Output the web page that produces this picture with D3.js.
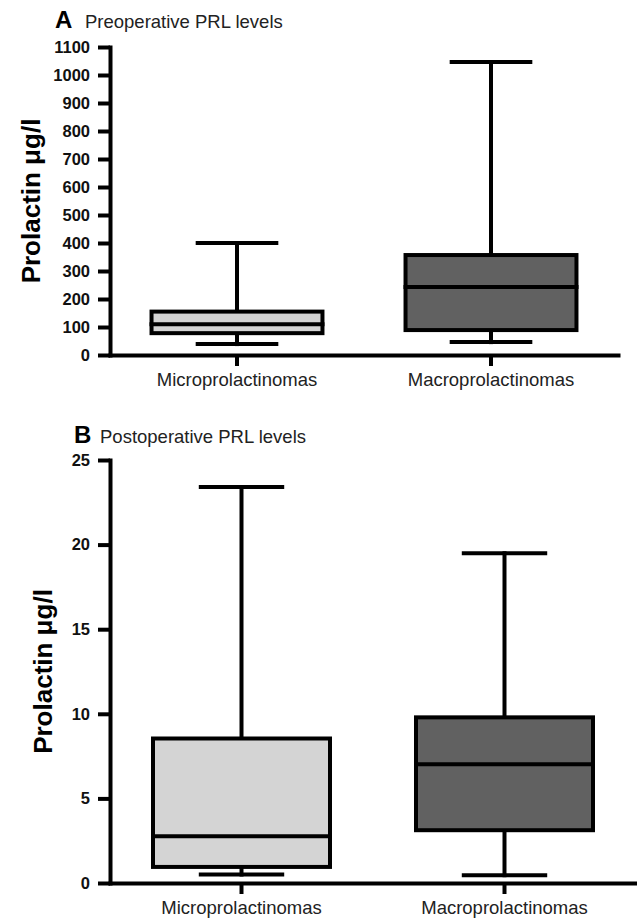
<!DOCTYPE html>
<html>
<head>
<meta charset="utf-8">
<script src="https://cdn.jsdelivr.net/npm/d3@7"></script>
<style>
  body { margin: 0; background: #fff; }
  svg { display: block; font-family: "Liberation Sans", Arial, sans-serif; }
</style>
</head>
<body>
<svg id="chart" width="637" height="920"></svg>
<script>
// 分类
const categories = ['Microprolactinomas', 'Macroprolactinomas'];
// 箱线图统计值: [min, q1, median, q3, max]
const preopStats = [
    [39, 78, 110, 155, 400],
    [46, 89, 243, 357, 1046]
];
const postopStats = [
    [0.5, 0.95, 2.76, 8.54, 23.4],
    [0.46, 3.12, 7.02, 9.79, 19.49]
];
// 刻度
const preopTicks = d3.range(0, 1101, 100);
const postopTicks = [0, 5, 10, 15, 20, 25];
// 填充色
const fills = ['#d4d4d4', '#616161'];

const svg = d3.select('#chart');

// 绘制单个面板
function drawPanel(opt) {
    let g = svg.append('g');
    let x = d3.scaleBand().domain(categories).range([opt.x0, opt.x1]).padding(0);
    let y = d3.scaleLinear().domain([0, opt.max]).range([opt.y0, opt.y1]);

    // 标题
    g.append('text').attr('x', opt.titleX).attr('y', opt.titleY)
        .attr('font-size', 24).attr('font-weight', 'bold').text(opt.letter);
    g.append('text').attr('x', opt.titleX + opt.titleGap).attr('y', opt.titleY)
        .attr('font-size', 18.5).attr('fill', '#222').text(opt.title);

    // 箱线
    let bw = x.bandwidth() * 0.673;
    let cw = bw * 0.46;
    let boxes = g.selectAll('.box').data(opt.stats).enter().append('g');
    boxes.each(function(d, i) {
        let sel = d3.select(this);
        let cx = x(categories[i]) + x.bandwidth() / 2;
        // 须线
        sel.append('line').attr('x1', cx).attr('x2', cx).attr('y1', y(d[0])).attr('y2', y(d[1]));
        sel.append('line').attr('x1', cx).attr('x2', cx).attr('y1', y(d[3])).attr('y2', y(d[4]));
        // 端帽
        [d[0], d[4]].forEach(v => {
            sel.append('line').attr('x1', cx - cw / 2).attr('x2', cx + cw / 2)
                .attr('y1', y(v)).attr('y2', y(v));
        });
        // 箱体
        sel.append('rect').attr('x', cx - bw / 2).attr('width', bw)
            .attr('y', y(d[3])).attr('height', y(d[1]) - y(d[3]))
            .attr('fill', fills[i]);
        // 中位数
        sel.append('line').attr('x1', cx - bw / 2).attr('x2', cx + bw / 2)
            .attr('y1', y(d[2])).attr('y2', y(d[2]));
    });
    boxes.selectAll('line, rect').attr('stroke', '#000').attr('stroke-width', 4)
        .attr('stroke-linecap', 'square');
    boxes.selectAll('rect').attr('stroke-linejoin', 'miter');

    // y 轴
    let ya = g.append('g').attr('transform', `translate(${opt.x0},0)`)
        .call(d3.axisLeft(y).tickValues(opt.ticks).tickFormat(d3.format('d'))
            .tickSize(12).tickSizeOuter(0).tickPadding(8));
    ya.selectAll('text').attr('font-size', 16.5).attr('font-weight', 'bold').attr('fill', '#111')
        .attr('font-family', '"Liberation Sans", Arial, sans-serif');

    // x 轴
    let xa = g.append('g').attr('transform', `translate(0,${opt.y0})`)
        .call(d3.axisBottom(x).tickSize(11).tickSizeOuter(0).tickPadding(7));
    xa.selectAll('text').attr('font-size', 18.5).attr('fill', '#222')
        .attr('font-family', '"Liberation Sans", Arial, sans-serif');

    [ya, xa].forEach(a => {
        a.selectAll('path, line').attr('stroke', '#000').attr('stroke-width', 4);
        a.select('.domain').attr('stroke-linecap', 'square');
    });

    // y 轴标题
    g.append('text')
        .attr('transform', `translate(${opt.labelX},${(opt.y0 + opt.y1) / 2}) rotate(-90)`)
        .attr('text-anchor', 'middle').attr('font-size', 26).attr('font-weight', 'bold')
        .text('Prolactin μg/l');
}

drawPanel({
    letter: 'A', title: 'Preoperative PRL levels', titleX: 55, titleY: 28, titleGap: 30,
    stats: preopStats, ticks: preopTicks, max: 1100,
    x0: 110, x1: 618, y0: 355, y1: 47, labelX: 40
});

drawPanel({
    letter: 'B', title: 'Postoperative PRL levels', titleX: 74, titleY: 443, titleGap: 26,
    stats: postopStats, ticks: postopTicks, max: 25,
    x0: 110, x1: 636, y0: 883, y1: 460, labelX: 52
});
</script>
</body>
</html>
